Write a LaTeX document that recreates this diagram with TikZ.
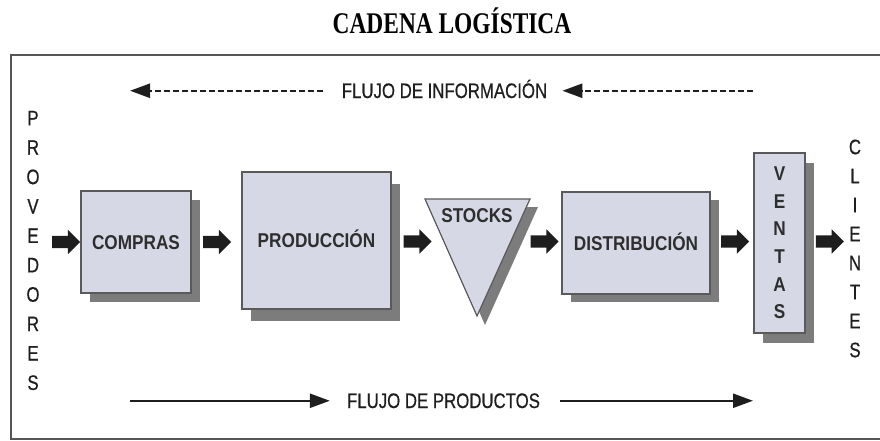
\documentclass[tikz,border=0pt]{standalone}
\usepackage{fontspec}
\newfontfamily\nar[FakeStretch=0.80,FakeBold=0.6]{Liberation Sans}
\newfontfamily\narb[FakeStretch=0.86]{Liberation Sans Bold}
\newfontfamily\titlef[FakeStretch=0.78]{Liberation Serif Bold}
\usetikzlibrary{arrows.meta,shapes.arrows,shadows,calc}
\definecolor{boxfill}{HTML}{D6D9E5}
\definecolor{boxline}{HTML}{5A5A5A}
\definecolor{shadowc}{HTML}{7C7C7C}
\definecolor{ink}{HTML}{1E1E1E}
\definecolor{labelink}{HTML}{2E2E2E}
\definecolor{framec}{HTML}{555555}
\begin{document}
\begin{tikzpicture}[x=1pt,y=-1pt,
  boxbase/.style={draw=boxline, line width=1.2pt, fill=boxfill, inner sep=0pt,
    text=labelink,
    drop shadow={shadow xshift=9pt, shadow yshift=-#1, fill=shadowc, opacity=1}},
  boxbase/.default=9pt,
  box/.style={boxbase=#1, font=\narb\fontsize{20}{24}\selectfont,
    text height=14pt, text depth=0pt},
  box/.default=9pt,
  lbl/.style={inner sep=0pt, text=labelink, font=\narb\fontsize{20}{24}\selectfont,
    text height=14pt, text depth=0pt},
  vletters/.style={inner sep=0pt, align=center, text=ink,
    font=\nar\fontsize{21}{#1}\selectfont},
  flow/.style={inner sep=0pt, text=ink, font=\nar\fontsize{21}{25}\selectfont,
    text height=14.5pt, text depth=0pt},
  fat/.style={single arrow, fill=ink, draw=none, inner xsep=0pt, inner ysep=6pt,
    text height=0pt, text depth=0pt, text width=0pt,
    minimum height=28pt,
    single arrow head extend=6pt, single arrow tip angle=90},
  dasharr/.style={draw=ink, line width=2.5pt, dash pattern=on 6pt off 3pt,
    -{Triangle[length=20pt,width=14pt]}},
  solarr/.style={draw=ink, line width=2.3pt,
    -{Triangle[length=20pt,width=14pt]}},
  frame/.style={draw=framec, line width=1.8pt}
]
\useasboundingbox (0,0) rectangle (880,440);

% title
\node[inner sep=0pt, anchor=base, font=\titlef\fontsize{30}{36}\selectfont, text=black]
  (title) at (452,33) {CADENA LOGÍSTICA};

% frame (right edge lies outside the picture)
\draw[frame] (884,55) -| (11,439) -- (884,439);

% side labels
\node[vletters=29.4pt] (provedores) at (33,250.5)
  {P\\R\\O\\V\\E\\D\\O\\R\\E\\S};
\node[vletters=29pt] (clientes) at (855,248.5)
  {C\\L\\I\\E\\N\\T\\E\\S};

% boxes
\node[box, minimum width=110pt, minimum height=102pt] (compras) at (136,242) {COMPRAS};
\node[box=12pt, minimum width=149pt, minimum height=137pt] (produccion) at (316.5,240.5) {PRODUCCIÓN};
\node[box=8pt, minimum width=148pt, minimum height=102pt] (distribucion) at (636,243) {DISTRIBUCIÓN};
\node[boxbase=10pt, minimum width=51pt, minimum height=180pt, align=center,
  font=\narb\fontsize{20}{27.6}\selectfont] (ventas) at (779.5,243)
  {V\\E\\N\\T\\A\\S};

% stocks triangle
\fill[shadowc] (433,207) -- (538,207) -- (485,325) -- cycle;
\filldraw[draw=boxline, line width=1.2pt, fill=boxfill] (425,199) -- (530,199) -- (477,316) -- cycle;
\node[lbl] (stocks) at (477,215) {STOCKS};
\coordinate (stk) at (477,241.5);

% fat arrows between stages
\path (provedores.east |- compras.west) -- (compras.west) node[fat, pos=0.57] (a0) {};
\path (compras.east) -- (compras.east -| produccion.west) node[fat, pos=0.45] (a1) {};
\path (produccion.east |- stk) -- (stk) node[fat, pos=0.267] (a2) {};
\path (stk) -- (stk -| distribucion.west) node[fat, pos=0.765] (a3) {};
\path (distribucion.east |- stk) -- (stk -| ventas.west) node[fat, pos=0.5] (a4) {};
\path (ventas.east |- stk) -- (stk -| clientes.west) node[fat, pos=0.49] (a5) {};

% information flow
\node[flow, anchor=base] (info) at (444.5,98) {FLUJO DE INFORMACIÓN};
\coordinate (il) at (130,0);
\coordinate (ir) at (753,0);
\draw[dasharr] ([xshift=-19pt]info.west) -- (il |- info.west);
\draw[dasharr] (ir |- info.east) -- ([xshift=15pt]info.east);

% product flow
\node[flow, anchor=base] (prod) at (443.5,408) {FLUJO DE PRODUCTOS};
\coordinate (pl) at (130,0);
\coordinate (pr) at (753,0);
\draw[solarr] (pl |- prod.west) -- ([xshift=-17pt]prod.west);
\draw[solarr] ([xshift=20pt]prod.east) -- (pr |- prod.east);
\end{tikzpicture}
\end{document}
